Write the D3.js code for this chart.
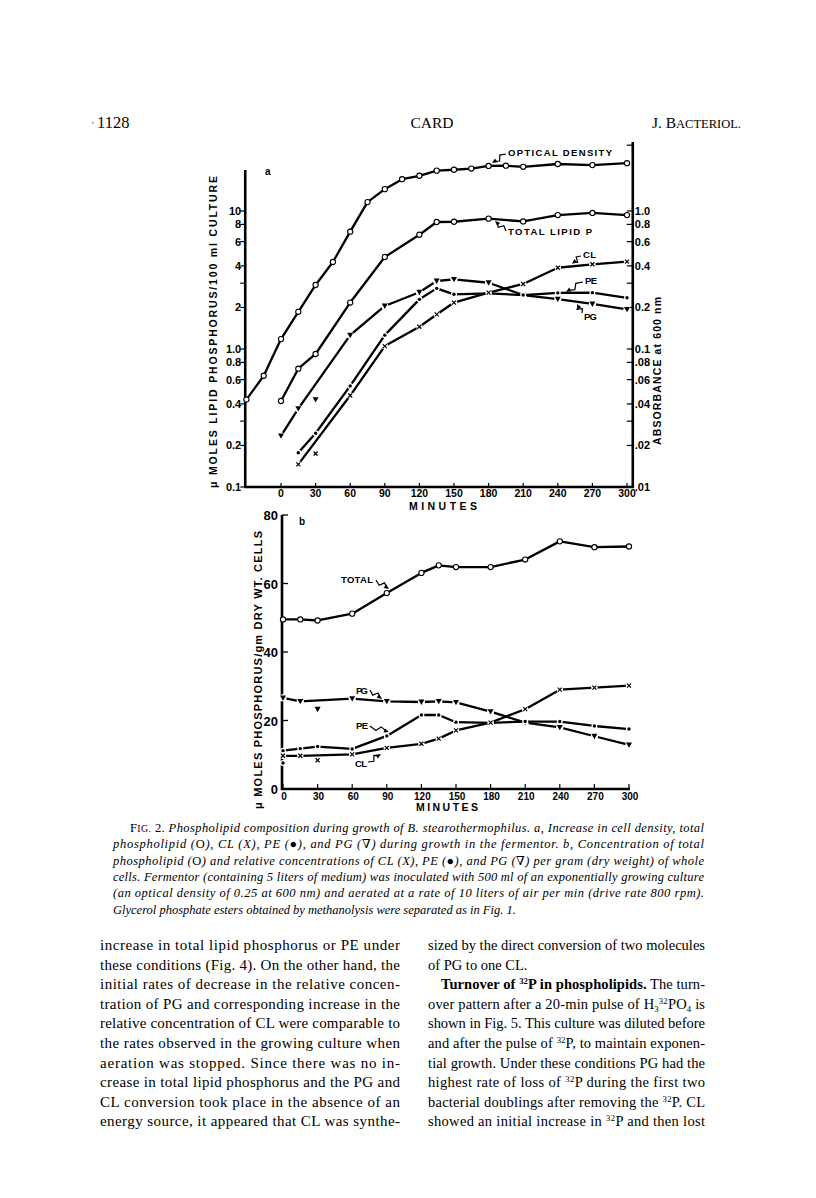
<!DOCTYPE html>
<html>
<head>
<meta charset="utf-8">
<script src="https://cdn.jsdelivr.net/npm/d3@7"></script>
<style>
  body { margin: 0; background: #fff; }
  svg { display: block; }
  .sans { font-family: "Liberation Sans", Arial, sans-serif; font-weight: bold; fill: #000; }
  .serif { font-family: "Liberation Serif", "DejaVu Serif", serif; fill: #000; }
</style>
</head>
<body>
<svg width="816" height="1198"></svg>
<script>
// ---------- panel a : minutes and values (OD in absorbance, lipids in umol/100 ml) ----------
var odMin = [-30, -15, 0, 15, 30, 45, 60, 75, 90, 105, 120, 135, 150, 165, 180, 195, 210, 240, 270, 300];
var odVal = [0.043, 0.064, 0.118, 0.186, 0.291, 0.427, 0.708, 1.16, 1.44, 1.70, 1.80, 1.96, 1.99, 2.03, 2.12, 2.13, 2.09, 2.19, 2.15, 2.22];

var totMin = [0, 15, 30, 60, 90, 120, 135, 150, 180, 210, 240, 270, 300];
var totVal = [0.42, 0.72, 0.92, 2.17, 4.64, 6.73, 8.32, 8.36, 8.80, 8.4, 9.35, 9.68, 9.35];

var pgMin = [0, 15, 60, 90, 120, 135, 150, 180, 210, 240, 270, 300];
var pgVal = [0.235, 0.37, 1.26, 2.05, 2.58, 3.11, 3.20, 3.02, 2.46, 2.30, 2.12, 1.94];
var pgOff = [[30, 0.43]];

var peMin = [15, 30, 60, 90, 120, 135, 150, 180, 210, 240, 270, 300];
var peVal = [0.177, 0.245, 0.54, 1.26, 2.29, 2.75, 2.49, 2.53, 2.46, 2.55, 2.56, 2.35];

var clMin = [15, 60, 90, 120, 135, 150, 180, 210, 240, 270, 300];
var clVal = [0.146, 0.46, 1.05, 1.45, 1.78, 2.17, 2.56, 2.96, 3.88, 4.11, 4.3];
var clOff = [[30, 0.175]];

var leftTicks  = [0.1, 0.2, 0.3, 0.4, 0.6, 0.8, 1, 2, 3, 4, 6, 8, 10];
var leftLabels = ["0.1", "0.2", "", "0.4", "0.6", "0.8", "1.0", "2", "", "4", "6", "8", "10"];
var rightTicks  = [0.01, 0.02, 0.03, 0.04, 0.06, 0.08, 0.1, 0.2, 0.3, 0.4, 0.6, 0.8, 1, 3];
var rightLabels = [".01", ".02", "", ".04", ".06", ".08", "0.1", "0.2", "", "0.4", "0.6", "0.8", "1.0", ""];
var minuteTicks = [0, 30, 60, 90, 120, 150, 180, 210, 240, 270, 300];

// ---------- panel b : umol phosphorus / gm dry wt ----------
var bMin = [0, 15, 30, 60, 90, 120, 135, 150, 180, 210, 240, 270, 300];
var bTotal = [49.5, 49.5, 49.2, 51.2, 57.2, 63.1, 65.3, 64.8, 64.8, 67.0, 72.3, 70.6, 70.8];

var bPgMin = [0, 15, 60, 90, 120, 135, 150, 180, 210, 240, 270, 300];
var bPg = [26.6, 25.6, 26.4, 25.6, 25.4, 25.6, 25.3, 22.6, 19.4, 18.0, 15.4, 12.9];
var bPgOff = [[30, 23.3]];

var bPe = [11.2, 11.8, 12.4, 11.7, 15.5, 21.6, 21.6, 19.5, 19.3, 19.7, 19.7, 18.4, 17.5];
var bPeOff = [[0, 7.6]];

var bClMin = [0, 15, 60, 90, 120, 135, 150, 180, 210, 240, 270, 300];
var bCl = [9.7, 9.7, 10.1, 12.0, 13.2, 14.7, 17.1, 19.4, 23.3, 29.0, 29.6, 30.2];
var bClOff = [[30, 8.4]];

var bTicks = [0, 20, 40, 60, 80];

var svg = d3.select("svg");
svg.append("rect").attr("width", 816).attr("height", 1198).attr("fill", "#fff");

function zip(a, b) { return a.map(function(d, i) { return [d, b[i]]; }); }

function marker(g, type, x, y) {
  if (type == "o") {
    g.append("circle").attr("cx", x).attr("cy", y).attr("r", 2.6)
      .attr("fill", "#fff").attr("stroke", "#000").attr("stroke-width", 1.1);
  } else if (type == "x") {
    g.append("circle").attr("cx", x).attr("cy", y).attr("r", 3.2).attr("fill", "#fff");
    g.append("path").attr("d", "M" + (x - 2) + "," + (y - 2) + "L" + (x + 2) + "," + (y + 2) +
      "M" + (x + 2) + "," + (y - 2) + "L" + (x - 2) + "," + (y + 2))
      .attr("stroke", "#000").attr("stroke-width", 1.2);
  } else if (type == "v") {
    g.append("circle").attr("cx", x).attr("cy", y).attr("r", 3.6).attr("fill", "#fff");
    g.append("path").attr("d", "M" + (x - 3) + "," + (y - 2.4) + "L" + (x + 3) + "," + (y - 2.4) +
      "L" + x + "," + (y + 3) + "Z").attr("fill", "#000");
  } else {
    g.append("circle").attr("cx", x).attr("cy", y).attr("r", 3).attr("fill", "#fff");
    g.append("circle").attr("cx", x).attr("cy", y).attr("r", 1.7).attr("fill", "#000");
  }
}

function series(g, pts, off, type, xs, ys) {
  var line = d3.line().x(function(d) { return xs(d[0]); }).y(function(d) { return ys(d[1]); });
  g.append("path").datum(pts).attr("d", line).attr("fill", "none")
    .attr("stroke", "#000").attr("stroke-width", 2.3).attr("stroke-linejoin", "round");
  pts.concat(off || []).forEach(function(d) { marker(g, type, xs(d[0]), ys(d[1])); });
}

// squiggly pointer with arrow head
function squig(g, x1, y1, x2, y2) {
  var dx = x2 - x1, dy = y2 - y1, L = Math.sqrt(dx * dx + dy * dy);
  var ux = dx / L, uy = dy / L, px = -uy, py = ux;
  var p = function(t, o) { return [x1 + dx * t + px * o, y1 + dy * t + py * o]; };
  var a = p(0.35, 2.5), b = p(0.55, -2.5), e = [x2 - ux * 3, y2 - uy * 3];
  g.append("path").attr("d", "M" + x1 + "," + y1 + "L" + a + "L" + b + "L" + e)
    .attr("fill", "none").attr("stroke", "#000").attr("stroke-width", 1.2);
  g.append("path").attr("d", "M" + x2 + "," + y2 +
      "L" + (x2 - ux * 5 + px * 2.2) + "," + (y2 - uy * 5 + py * 2.2) +
      "L" + (x2 - ux * 5 - px * 2.2) + "," + (y2 - uy * 5 - py * 2.2) + "Z")
    .attr("fill", "#000");
}

function label(g, txt, x, y, len, size) {
  g.append("text").attr("class", "sans").attr("x", x).attr("y", y)
    .attr("font-size", size || 9.5).attr("textLength", len).attr("lengthAdjust", "spacing").text(txt);
}

function vlabel(g, txt, cx, cy, len, size) {
  g.append("text").attr("class", "sans")
    .attr("transform", "translate(" + cx + "," + cy + ") rotate(-90)")
    .attr("text-anchor", "middle").attr("font-size", size)
    .attr("textLength", len).attr("lengthAdjust", "spacing").text(txt);
}

// ================= panel a =================
var xA = d3.scaleLinear().domain([0, 300]).range([281, 627]);
var yL = d3.scaleLog().domain([0.1, 10]).range([487, 211]);
var yR = d3.scaleLog().domain([0.01, 1]).range([487, 211]);
var gA = svg.append("g");

var axL = xA(-31), axR = xA(305);
gA.append("line").attr("x1", axL).attr("x2", axL).attr("y1", 170).attr("y2", yL(0.1))
  .attr("stroke", "#000").attr("stroke-width", 2.6);
gA.append("line").attr("x1", axR).attr("x2", axR).attr("y1", 142).attr("y2", yL(0.1) + 1)
  .attr("stroke", "#000").attr("stroke-width", 2.6);
gA.append("line").attr("x1", axL - 1).attr("x2", axR + 1).attr("y1", yL(0.1)).attr("y2", yL(0.1))
  .attr("stroke", "#000").attr("stroke-width", 2.6);

leftTicks.forEach(function(v, i) {
  gA.append("line").attr("x1", axL - 5).attr("x2", axL).attr("y1", yL(v)).attr("y2", yL(v))
    .attr("stroke", "#000").attr("stroke-width", 1.2);
  gA.append("text").attr("class", "sans").attr("x", axL - 4).attr("y", yL(v) + 4)
    .attr("text-anchor", "end").attr("font-size", 11).text(leftLabels[i]);
});
rightTicks.forEach(function(v, i) {
  gA.append("line").attr("x1", axR - 6).attr("x2", axR).attr("y1", yR(v)).attr("y2", yR(v))
    .attr("stroke", "#000").attr("stroke-width", 1.2);
  gA.append("text").attr("class", "sans").attr("x", axR + 2).attr("y", yR(v) + 4)
    .attr("font-size", 11).text(rightLabels[i]);
});
minuteTicks.forEach(function(m) {
  gA.append("line").attr("x1", xA(m)).attr("x2", xA(m)).attr("y1", yL(0.1) - 4).attr("y2", yL(0.1))
    .attr("stroke", "#000").attr("stroke-width", 1.2);
  gA.append("text").attr("class", "sans").attr("x", xA(m)).attr("y", 497)
    .attr("text-anchor", "middle").attr("font-size", 10.5).text(m);
});
label(gA, "MINUTES", 409, 510, 68, 10.5);
vlabel(gA, "\u03BC MOLES LIPID PHOSPHORUS/100 ml CULTURE", 217, 332, 312, 10.5);
vlabel(gA, "ABSORBANCE at 600 nm", 661, 371, 148, 10.5);
gA.append("text").attr("class", "sans").attr("x", 265).attr("y", 175).attr("font-size", 10).text("a");

series(gA, zip(odMin, odVal), [], "o", xA, yR);
series(gA, zip(totMin, totVal), [], "o", xA, yL);
series(gA, zip(pgMin, pgVal), pgOff, "v", xA, yL);
series(gA, zip(peMin, peVal), [], "dot", xA, yL);
series(gA, zip(clMin, clVal), clOff, "x", xA, yL);

label(gA, "OPTICAL DENSITY", 508, 156, 104);
squig(gA, 506, 154, 492, 163);
label(gA, "TOTAL LIPID P", 508, 235, 84);
squig(gA, 506, 231, 495, 221);
label(gA, "CL", 583, 258, 13);
squig(gA, 581, 256, 572, 264);
label(gA, "PE", 585, 284, 12);
squig(gA, 583, 282, 566, 292);
label(gA, "PG", 584, 320, 13);
squig(gA, 582, 313, 577, 304);

// ================= panel b =================
var xB = d3.scaleLinear().domain([0, 300]).range([283, 629]);
var yB = d3.scaleLinear().domain([0, 80]).range([789, 515]);
var gB = svg.append("g");

gB.append("line").attr("x1", 282).attr("x2", 282).attr("y1", yB(80)).attr("y2", yB(0) + 1)
  .attr("stroke", "#000").attr("stroke-width", 2.6);
gB.append("line").attr("x1", 281).attr("x2", xB(300) + 1).attr("y1", yB(0)).attr("y2", yB(0))
  .attr("stroke", "#000").attr("stroke-width", 2.6);
bTicks.forEach(function(v) {
  gB.append("line").attr("x1", 282).attr("x2", 288).attr("y1", yB(v)).attr("y2", yB(v))
    .attr("stroke", "#000").attr("stroke-width", 1.3);
  gB.append("text").attr("class", "sans").attr("x", 278).attr("y", yB(v) + 5)
    .attr("text-anchor", "end").attr("font-size", 13).text(v);
});
minuteTicks.forEach(function(m) {
  gB.append("line").attr("x1", xB(m)).attr("x2", xB(m)).attr("y1", yB(0) - 5).attr("y2", yB(0))
    .attr("stroke", "#000").attr("stroke-width", 1.2);
  gB.append("text").attr("class", "sans").attr("x", xB(m) + 1).attr("y", 800)
    .attr("text-anchor", "middle").attr("font-size", 10).text(m);
});
label(gB, "MINUTES", 416, 811, 62, 10.5);
vlabel(gB, "\u03BC MOLES PHOSPHORUS/gm DRY WT. CELLS", 262, 670, 278, 11);
gB.append("text").attr("class", "sans").attr("x", 299).attr("y", 525).attr("font-size", 10).text("b");

series(gB, zip(bMin, bTotal), [], "o", xB, yB);
series(gB, zip(bPgMin, bPg), bPgOff, "v", xB, yB);
series(gB, zip(bMin, bPe), bPeOff, "dot", xB, yB);
series(gB, zip(bClMin, bCl), bClOff, "x", xB, yB);

label(gB, "TOTAL", 341, 583, 32);
squig(gB, 376, 580, 389, 589);
label(gB, "PG", 356, 694, 12);
squig(gB, 370, 690, 382, 699);
label(gB, "PE", 356, 729, 12);
squig(gB, 370, 726, 389, 732);
label(gB, "CL", 355, 767, 12);
squig(gB, 368, 762, 381, 754);

// ================= page text =================
var gT = svg.append("g");

function writeLine(x, y, segs, o) {
  var t = gT.append("text").attr("class", "serif").attr("x", x).attr("y", y)
    .attr("font-size", o.size).attr("font-style", o.italic ? "italic" : "normal")
    .attr("xml:space", "preserve");
  if (o.width) t.attr("textLength", o.width).attr("lengthAdjust", "spacing");
  var shift = 0;
  segs.forEach(function(s) {
    if (typeof s == "string") s = { t: s };
    var want = s.sup ? -5 : (s.sub ? 3 : 0);
    var ts = t.append("tspan").attr("dy", want - shift).text(s.t);
    shift = want;
    if (s.sup || s.sub) ts.attr("font-size", o.size * 0.6);
    if (s.sc) ts.attr("font-size", o.size * 0.78);
    if (s.b) ts.attr("font-weight", "bold");
    if (s.up) ts.attr("font-style", "normal");
  });
}

// running head
writeLine(92, 128, ["'"], { size: 9 });
writeLine(97, 128, ["1128"], { size: 16.5 });
gT.append("text").attr("class", "serif").attr("x", 432).attr("y", 128).attr("text-anchor", "middle")
  .attr("font-size", 15.5).text("CARD");
gT.append("text").attr("class", "serif").attr("x", 741).attr("y", 128).attr("text-anchor", "end")
  .attr("font-size", 15.5).html('J. B<tspan font-size="12.5">ACTERIOL.</tspan>');

// figure legend
var capLines = [
  [{ t: "F", up: 1 }, { t: "IG.", up: 1, sc: 1 }, { t: " 2. ", up: 1 }, "Phospholipid composition during growth of B. stearothermophilus. a, Increase in cell density, total"],
  ["phospholipid (", { t: "O", up: 1 }, "), CL (X), PE (", { t: "\u25CF", up: 1 }, "), and PG (", { t: "\u2207", up: 1 }, ") during growth in the fermentor. b, Concentration of total"],
  ["phospholipid (", { t: "O", up: 1 }, ") and relative concentrations of CL (X), PE (", { t: "\u25CF", up: 1 }, "), and PG (", { t: "\u2207", up: 1 }, ") per gram (dry weight) of whole"],
  ["cells. Fermentor (containing 5 liters of medium) was inoculated with 500 ml of an exponentially growing culture"],
  ["(an optical density of 0.25 at 600 nm) and aerated at a rate of 10 liters of air per min (drive rate 800 rpm)."],
  ["Glycerol phosphate esters obtained by methanolysis were separated as in Fig. 1."]
];
capLines.forEach(function(l, i) {
  var x = i == 0 ? 130 : 113;
  writeLine(x, 832 + i * 16.3, l, { size: 12.5, italic: true, width: i < 5 ? 704 - x : null });
});

// body columns
var leftCol = [
  "increase in total lipid phosphorus or PE under",
  "these conditions (Fig. 4). On the other hand, the",
  "initial rates of decrease in the relative concen-",
  "tration of PG and corresponding increase in the",
  "relative concentration of CL were comparable to",
  "the rates observed in the growing culture when",
  "aeration was stopped. Since there was no in-",
  "crease in total lipid phosphorus and the PG and",
  "CL conversion took place in the absence of an",
  "energy source, it appeared that CL was synthe-"
];
var rightCol = [
  ["sized by the direct conversion of two molecules"],
  ["of PG to one CL."],
  [{ t: "Turnover of ", b: 1 }, { t: "32", b: 1, sup: 1 }, { t: "P in phospholipids.", b: 1 }, " The turn-"],
  ["over pattern after a 20-min pulse of H", { t: "3", sub: 1 }, { t: "32", sup: 1 }, "PO", { t: "4", sub: 1 }, " is"],
  ["shown in Fig. 5. This culture was diluted before"],
  ["and after the pulse of ", { t: "32", sup: 1 }, "P, to maintain exponen-"],
  ["tial growth. Under these conditions PG had the"],
  ["highest rate of loss of ", { t: "32", sup: 1 }, "P during the first two"],
  ["bacterial doublings after removing the ", { t: "32", sup: 1 }, "P. CL"],
  ["showed an initial increase in ", { t: "32", sup: 1 }, "P and then lost"]
];
leftCol.forEach(function(l, i) {
  writeLine(100, 950 + i * 19.6, [l], { size: 15, width: 300 });
});
rightCol.forEach(function(l, i) {
  var x = i == 2 ? 441 : 428;
  writeLine(x, 950 + i * 19.6, l, { size: 14.5, width: i == 1 ? null : 705 - x });
});
</script>
</body>
</html>
